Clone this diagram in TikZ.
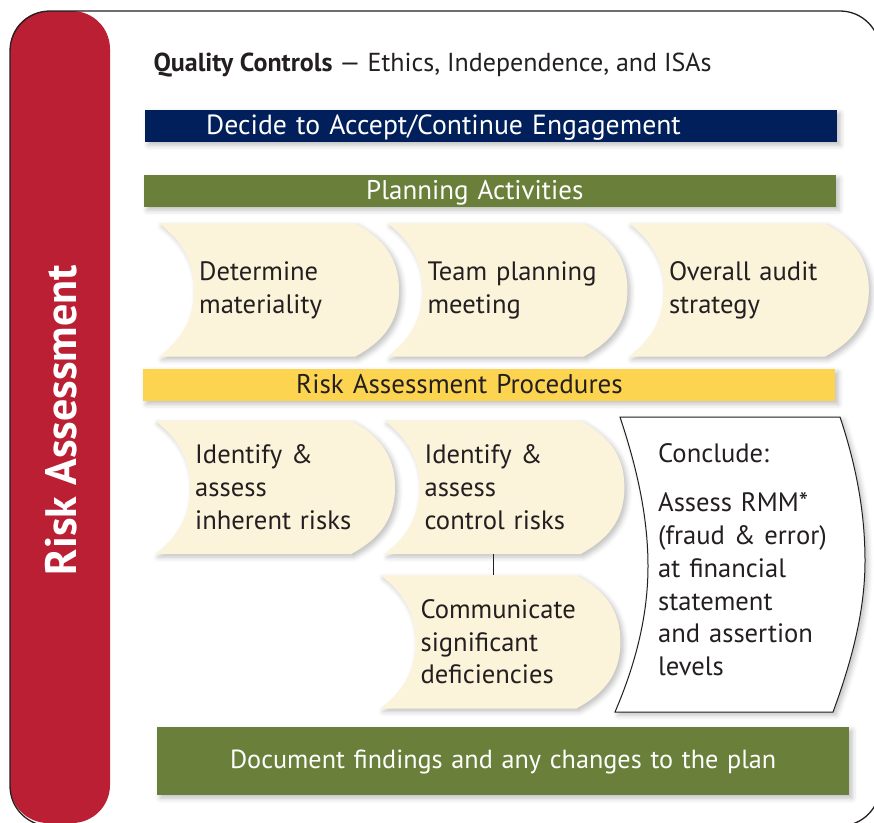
\documentclass[tikz,border=0pt]{standalone}
\usepackage{fontspec}
\setmainfont{PT Sans}
\usetikzlibrary{positioning, calc, shadows.blur}

\definecolor{riskred}{RGB}{186,31,51}
\definecolor{navy}{RGB}{0,31,91}
\definecolor{olive}{RGB}{106,128,58}
\definecolor{gold}{RGB}{253,212,80}
\definecolor{cream}{RGB}{251,243,218}
\definecolor{ink}{RGB}{35,31,32}

\pgfdeclarelayer{shapes}
\pgfsetlayers{shapes,main}

\newcommand\chevfont{\fontsize{26.6}{32.8}\selectfont}
\newcommand\barfont{\fontsize{27}{32}\selectfont}

% cream chevron drawn round a text node
\newcommand\chevshape[1]{%
  \fill[cream, shade]
    ($(#1.north west)+(-40,0)$) -- ($(#1.north west)+(156,0)$)
    .. controls ($(#1.north west)+(182,14)$) and ($(#1.west)+(200,-34)$) .. ($(#1.west)+(200,0)$)
    .. controls ($(#1.west)+(200,34)$) and ($(#1.south west)+(182,-14)$) .. ($(#1.south west)+(156,0)$)
    -- ($(#1.south west)+(-40,0)$)
    .. controls ($(#1.south west)+(-22,-14)$) and ($(#1.west)+(-5,34)$) .. ($(#1.west)+(-5,0)$)
    .. controls ($(#1.west)+(-5,-34)$) and ($(#1.north west)+(-22,14)$) .. ($(#1.north west)+(-40,0)$)
    -- cycle;}

\tikzset{
  shade/.style={blur shadow={shadow xshift=3pt, shadow yshift=-3pt,
      shadow blur radius=5pt, shadow opacity=25}},
  bar/.style={anchor=north west, minimum width=692pt, minimum height=32pt,
      inner ysep=0pt, text depth=3pt, align=left, text=white, font=\barfont, shade},
  chev/.style={text width=175pt, inner xsep=0pt, inner ysep=0pt,
      minimum height=133pt, align=left, text=ink, font=\chevfont},
}

\begin{document}
\begin{tikzpicture}[x=1pt, y=-1pt]
\useasboundingbox (0,0) rectangle (874,822);

% frame and side band
\fill[riskred, rounded corners=38pt] (10,11) rectangle (110,823);
\draw[ink, line width=1.3pt, rounded corners=40pt] (10,11) rectangle (880,826);
\node[rotate=90, text=white, font=\bfseries\fontsize{44}{52}\selectfont] (side)
    at (61,420) {Risk Assessment};

\node[anchor=base west, text=ink, font=\fontsize{26}{30}\selectfont] (title)
    at (150,71) {\textbf{Quality Controls} — Ethics, Independence, and ISAs};

\node[bar, fill=navy, inner xsep=61pt, text width=570pt, font=\fontsize{27.7}{32}\selectfont] (accept)
    at (145,110) {Decide to Accept/Continue Engagement};
\node[bar, fill=olive, inner xsep=222pt, text width=248pt] (plan)
    at (144,175) {Planning Activities};

\node[chev, anchor=west] (mat) at (199,290) {Determine\\materiality};
\node[chev, right=53pt of mat] (team) {Team planning\\meeting};
\node[chev, right=66pt of team] (strat) {Overall audit\\strategy};

\node[bar, fill=gold, text=ink, inner xsep=153pt, text width=386pt] (proc)
    at (143,369) {Risk Assessment Procedures};

\node[chev, below=64pt of mat, xshift=-4pt] (inh) {Identify \&\\assess\\inherent risks};
\node[chev, right=54pt of inh] (ctrl) {Identify \&\\assess\\control risks};
\node[chev, below=21pt of ctrl, xshift=-4pt] (comm) {Communicate\\significant\\deficiencies};

\node[anchor=west, text width=180pt, inner sep=0pt, align=left, text=ink,
    font=\chevfont] (concl) at (658,560)
    {Conclude:\\[16pt]Assess RMM*\\(fraud \& error)\\at financial\\statement\\and assertion\\levels};

\node[bar, fill=olive, minimum height=68pt, inner xsep=10pt, text width=672pt,
    align=center, font=\fontsize{26.2}{32}\selectfont] (doc)
    at (157,727) {Document findings and any changes to the plan};

\draw[ink, line width=1.6pt] ([xshift=-18.5pt]ctrl.south) -- ([xshift=-18.5pt]ctrl.south |- comm.north);

% step shapes
\begin{pgfonlayer}{shapes}
  \chevshape{mat}
  \chevshape{team}
  \chevshape{strat}
  \chevshape{inh}
  \chevshape{ctrl}
  \chevshape{comm}
  \filldraw[fill=white, draw=ink, line width=1pt, shade]
    ($(concl.west)+(-38,-143)$) -- ($(concl.west)+(182,-143)$)
    .. controls ($(concl.west)+(198,-95)$) and ($(concl.west)+(207,-48)$) .. ($(concl.west)+(207,1)$)
    .. controls ($(concl.west)+(207,52)$) and ($(concl.west)+(193,103)$) .. ($(concl.west)+(175,152)$)
    -- ($(concl.west)+(-43,152)$)
    .. controls ($(concl.west)+(-22,103)$) and ($(concl.west)+(-10,55)$) .. ($(concl.west)+(-10,6)$)
    .. controls ($(concl.west)+(-10,-45)$) and ($(concl.west)+(-22,-95)$) .. ($(concl.west)+(-38,-143)$)
    -- cycle;
\end{pgfonlayer}
\end{tikzpicture}
\end{document}
